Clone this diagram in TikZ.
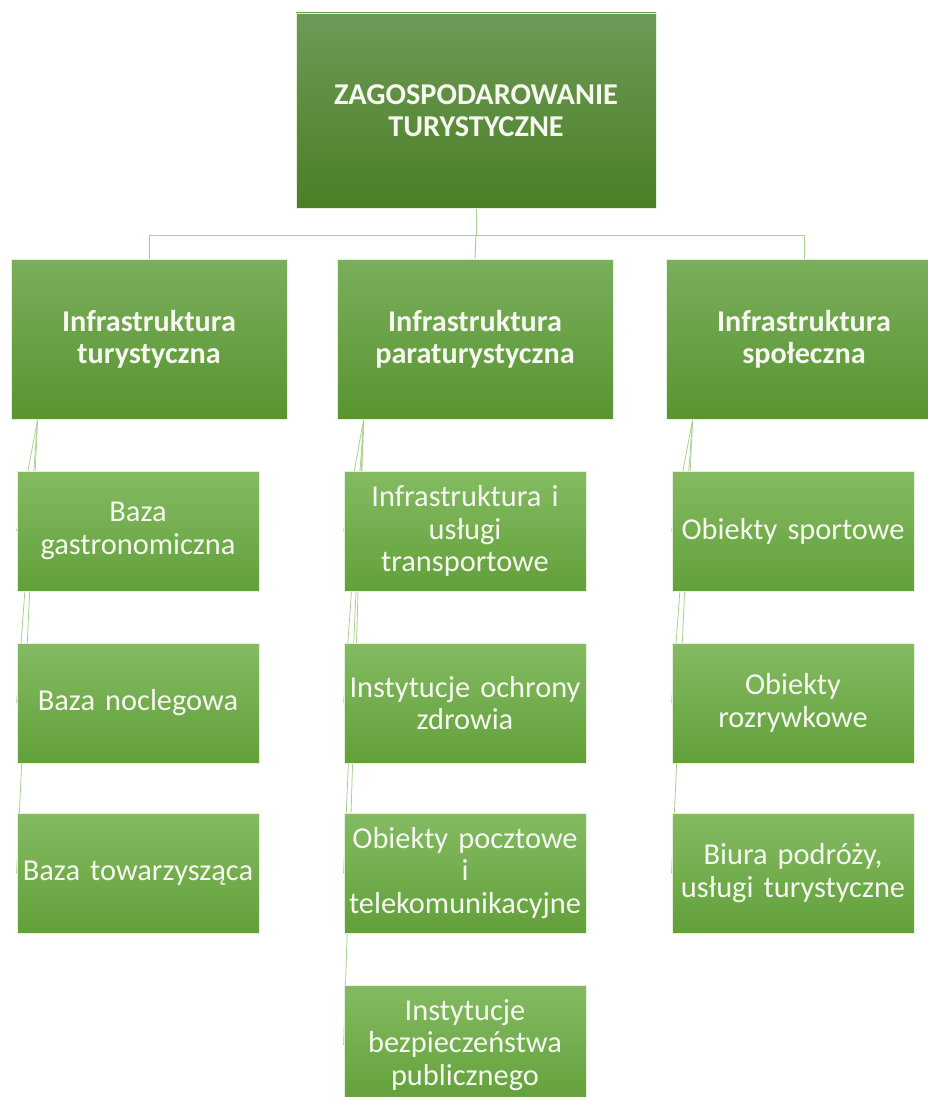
\documentclass[tikz,border=0pt]{standalone}
\usepackage{fontspec}
\setmainfont{Carlito}
\usetikzlibrary{backgrounds}
\definecolor{topA}{HTML}{6E9A57}
\definecolor{topB}{HTML}{4B7F26}
\definecolor{midA}{HTML}{7BAE5C}
\definecolor{midB}{HTML}{589530}
\definecolor{lowA}{HTML}{84BB62}
\definecolor{lowB}{HTML}{62A03A}
\definecolor{linkc}{HTML}{A9D08E}
\definecolor{txt}{HTML}{F7F7F2}
\tikzset{
  box/.style={draw=white!70!linkc, line width=0.8pt, align=center, inner sep=0pt, text=txt},
  topbox/.style={box, top color=topA, bottom color=topB, minimum width=360pt, minimum height=195pt, text width=340pt, font=\fontsize{30.3}{32}\selectfont\bfseries},
  midbox/.style={box, top color=midA, bottom color=midB, minimum width=276pt, minimum height=160pt, text width=262pt, font=\fontsize{30.2}{32}\selectfont\bfseries},
  lowbox/.style={box, top color=lowA, bottom color=lowB, minimum width=242pt, minimum height=120pt, text width=240pt, font=\fontsize{30.4}{32.5}\selectfont},
  link/.style={draw=linkc, line width=1pt},
}
\begin{document}
\begin{tikzpicture}[x=1pt, y=-1pt]
\useasboundingbox (0,0) rectangle (928,1097);
\node[topbox] (top) at (476,110.5) {ZAGOSPODAROWANIE\\TURYSTYCZNE};
\node[midbox] (p1) at (149,339) {Infrastruktura\\turystyczna};
\node[midbox] (p2) at (475,339) {Infrastruktura\\paraturystyczna};
\node[midbox] (p3) at (804,339) {Infrastruktura\\społeczna};
\node[lowbox] (a1) at (138,531) {Baza\\gastronomiczna};
\node[lowbox] (a2) at (138,703) {Baza noclegowa};
\node[lowbox] (a3) at (138,873) {Baza towarzysząca};
\node[lowbox] (b1) at (465,531) {Infrastruktura i\\usługi\\transportowe};
\node[lowbox] (b2) at (465,703) {Instytucje ochrony\\zdrowia};
\node[lowbox] (b3) at (465,873) {Obiekty pocztowe\\i\\telekomunikacyjne};
\node[lowbox] (b4) at (465,1045) {Instytucje\\bezpieczeństwa\\publicznego};
\node[lowbox] (c1) at (793,531) {Obiekty sportowe};
\node[lowbox] (c2) at (793,703) {Obiekty\\rozrywkowe};
\node[lowbox] (c3) at (793,873) {Biura podróży,\\usługi turystyczne};
\begin{scope}[on background layer]
\coordinate (fork) at ([yshift=-27pt]top.south);
\draw[link] (top.south) -- (fork);
\draw[link] (fork) -| (p1.north);
\draw[link] (fork) -| (p3.north);
\draw[link] (fork) -- (p2.north);
\foreach \p/\kids in {p1/{a1,a2,a3}, p2/{b1,b2,b3,b4}, p3/{c1,c2,c3}}{
  \foreach \k in \kids {
    \draw[link, line width=0.8pt] ([xshift=27pt]\p.south west) -- (\k.west);
  }
}
\end{scope}
\end{tikzpicture}
\end{document}
